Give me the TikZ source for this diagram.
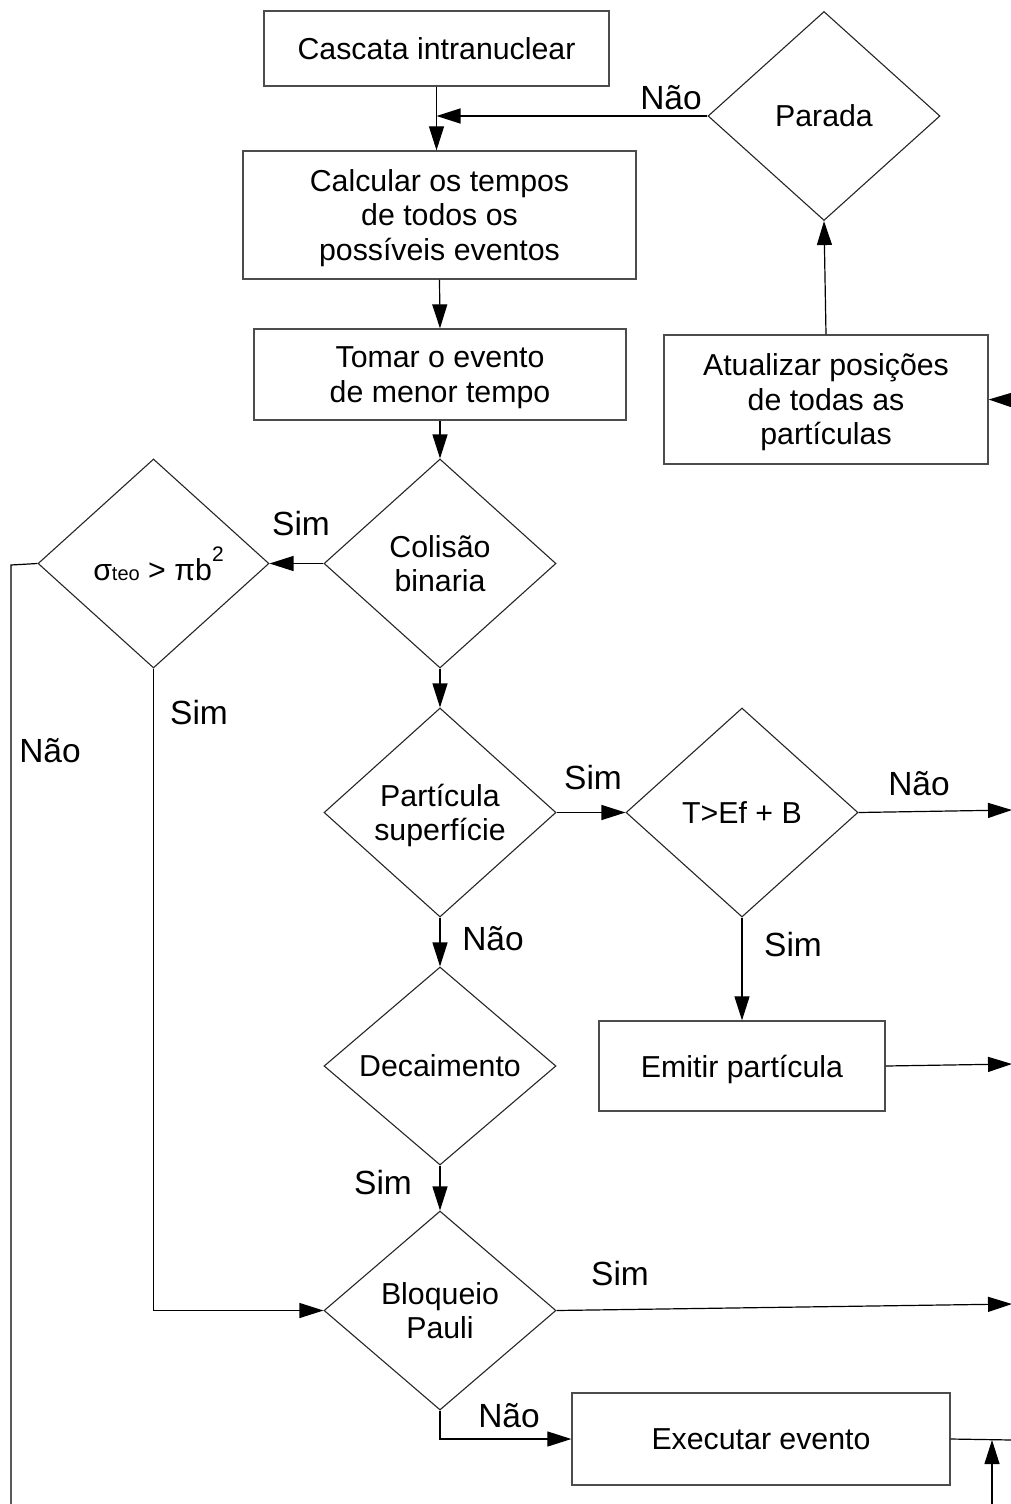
\documentclass[tikz,border=0pt]{standalone}
\usepackage{fontspec}
\setmainfont{Liberation Sans}
\usetikzlibrary{shapes.geometric,arrows.meta,calc}
\begin{document}
\begin{tikzpicture}[x=1pt,y=-1pt,
 every node/.style={font=\fontsize{30.3}{34.5}\selectfont},
 box/.style={draw=black!70,line width=1.3pt,rectangle,align=center,inner sep=0pt},
 dia/.style={draw=black!85,line width=1.1pt,diamond,align=center,minimum width=232pt,minimum height=209pt,inner sep=0pt,aspect=1.1},
 lbl/.style={font=\fontsize{33.5}{36}\selectfont,anchor=base,inner sep=0pt},
 conn/.style={line width=1.2pt,draw=black},
 arr/.style={conn,-{Triangle[length=24pt,width=15pt]}}]
\useasboundingbox (0,0) rectangle (1011,1504);

% boxes
\node[box,minimum width=345pt,minimum height=75pt] (casc) at (436.5,48.5) {Cascata intranuclear};
\node[box,minimum width=393pt,minimum height=128pt] (calc) at (439.5,215) {Calcular os tempos\\de todos os\\\smash{possíveis eventos}};
\node[box,minimum width=372pt,minimum height=91pt] (tomar) at (440,374.5) {Tomar o evento\\\smash{de menor tempo}};
\node[box,minimum width=324pt,minimum height=129pt] (atu) at (826,399.5) {Atualizar posições\\de todas as\\\smash{partículas}};
\node[box,minimum width=286pt,minimum height=90pt,text depth=0pt] (emit) at (742,1066) {Emitir partícula};
\node[box,minimum width=378pt,minimum height=92pt] (exe) at (761,1439) {Executar evento};

% diamonds
\node[dia] (par) at (824,116) {Parada};
\node[dia] (col) at (440,563.5) {Colisão\\binaria};
\node[dia,minimum width=231pt] (sig) at (153.5,563.5) {\hspace*{10pt}σ{\fontsize{20}{20}\selectfont teo} > πb\raisebox{0.62em}{\fontsize{21}{21}\selectfont 2}};
\node[dia] (part) at (440,812.5) {Partícula\\\smash{superfície}};
\node[dia] (tef) at (742,812.5) {T>Ef + B};
\node[dia,minimum height=198pt] (dec) at (440,1066) {Decaimento};
\node[dia,minimum height=199pt] (blo) at (440,1310.5) {Bloqueio\\Pauli};

% free-end coordinates
\coordinate (atuin) at (1012,400);
\coordinate (lft) at (11,565);
\coordinate (lftb) at (11,1506);
\coordinate (outA) at (1012,810);
\coordinate (outB) at (1012,1064);
\coordinate (outC) at (1012,1304);
\coordinate (outD) at (1012,1440);
\coordinate (upB) at (992,1506);
\coordinate (upT) at (992,1440);

% connectors
\draw[arr] (casc.south) -- (casc.south |- calc.north);
\draw[arr] (par.west) -- (par.west -| casc.south);
\draw[arr] (calc.south) -- (tomar.north);
\draw[arr] (tomar.south) -- (col.north);
\draw[arr] (atu.north) -- (par.south);
\draw[arr] (atuin) -- (atu.east);
\draw[arr] (col.west) -- (sig.east);
\draw[conn] (sig.west) -- (lft) -- (lftb);
\draw[arr] (sig.south) |- (blo.west);
\draw[arr] (col.south) -- (part.north);
\draw[arr] (part.east) -- (tef.west);
\draw[arr] (tef.east) -- (outA);
\draw[arr] (tef.south) -- (emit.north);
\draw[arr] (emit.east) -- (outB);
\draw[arr] (part.south) -- (dec.north);
\draw[arr] (dec.south) -- (blo.north);
\draw[arr] (blo.east) -- (outC);
\draw[arr] (blo.south) |- (exe.west);
\draw[conn] (exe.east) -- (outD);
\draw[arr] (upB) -- (upT);

% labels
\node[lbl] (l1) at (671,109) {Não};
\node[lbl] (l2) at (301,535) {Sim};
\node[lbl] (l3) at (199,724) {Sim};
\node[lbl] (l4) at (50,762) {Não};
\node[lbl] (l5) at (593,789) {Sim};
\node[lbl] (l6) at (919,795) {Não};
\node[lbl] (l7) at (793,956) {Sim};
\node[lbl] (l8) at (493,950) {Não};
\node[lbl] (l9) at (383,1194) {Sim};
\node[lbl] (l10) at (620,1285) {Sim};
\node[lbl] (l11) at (509,1427) {Não};
\end{tikzpicture}
\end{document}
